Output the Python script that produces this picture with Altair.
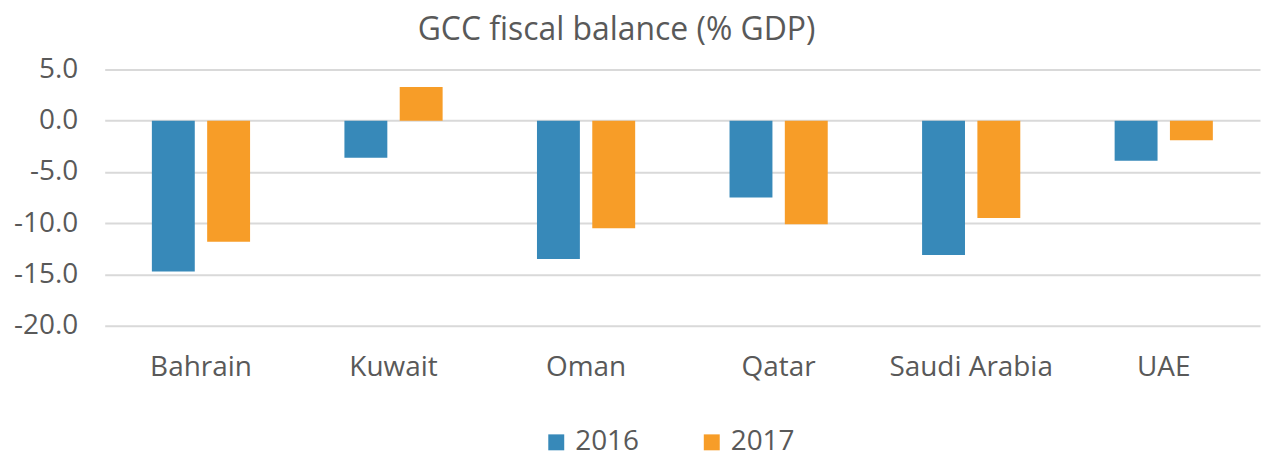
import altair as alt
import pandas as pd

countries = ["Bahrain", "Kuwait", "Oman", "Qatar", "Saudi Arabia", "UAE"]
years = ["2016", "2017"]
values_2016 = [-14.7, -3.6, -13.5, -7.5, -13.1, -3.9]
values_2017 = [-11.8, 3.3, -10.5, -10.1, -9.5, -1.9]
y_ticks = [5, 0, -5, -10, -15, -20]
colors = ["#3789B9", "#F79D28"]

rows = []
for c, v in zip(countries, values_2016):
    rows.append({"country": c, "year": "2016", "value": v})
for c, v in zip(countries, values_2017):
    rows.append({"country": c, "year": "2017", "value": v})
df = pd.DataFrame(rows)

FONT = "Open Sans"
GREY = "#595959"

chart = alt.Chart(df).mark_bar().encode(
    x=alt.X("country:N", sort=countries, title=None,
            scale=alt.Scale(paddingInner=0.49, paddingOuter=0.245),
            axis=alt.Axis(labelAngle=0, ticks=False, domain=False, labelPadding=28,
                          labelFontSize=28, labelColor=GREY, labelFont=FONT)),
    xOffset=alt.XOffset("year:N", sort=years, scale=alt.Scale(paddingInner=0.224, paddingOuter=0)),
    y=alt.Y("value:Q", title=None,
            scale=alt.Scale(domain=[-20, 5], nice=False),
            axis=alt.Axis(values=y_ticks, ticks=False, domain=False,
                          labelExpr="replace(format(datum.value, '.1f'), '\u2212', '-')",
                          labelPadding=27, labelFontSize=28, labelColor=GREY, labelFont=FONT,
                          gridColor="#D9D9D9", gridWidth=2)),
    color=alt.Color("year:N", sort=years,
                    scale=alt.Scale(domain=years, range=colors),
                    legend=alt.Legend(title=None, orient="none", direction="horizontal",
                                      legendX=439, legendY=360,
                                      symbolType="square", symbolSize=256, symbolStrokeWidth=0,
                                      labelFontSize=28, labelColor=GREY, labelFont=FONT,
                                      columnPadding=58, labelOffset=5)),
).properties(
    width=1159,
    height=257,
    title=alt.TitleParams("GCC fiscal balance (% GDP)", fontSize=32, font=FONT,
                          color=GREY, fontWeight="normal", offset=9, anchor="middle", dx=-66),
).configure_view(stroke=None)

chart.save("out.html", embed_options={"renderer": "svg", "actions": False})
